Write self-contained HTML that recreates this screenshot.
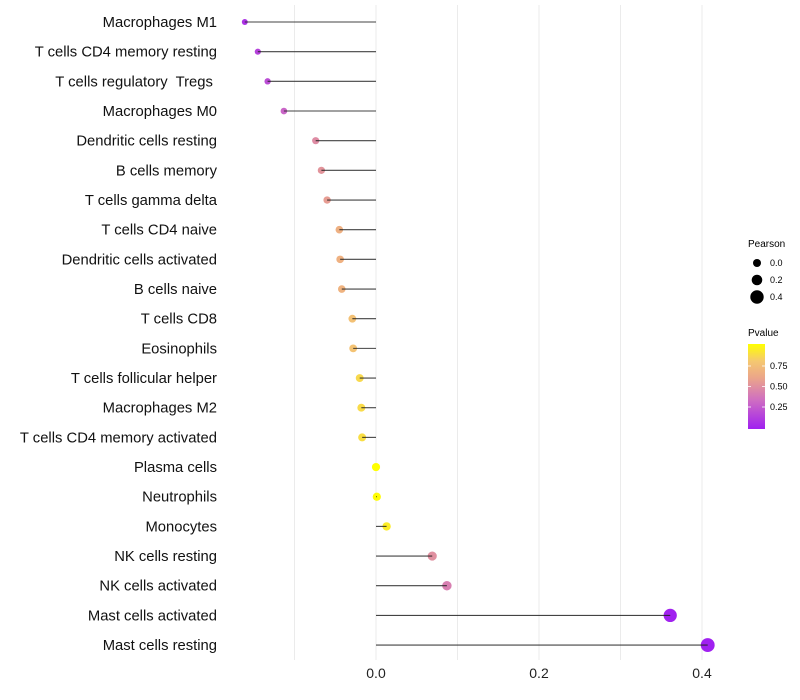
<!DOCTYPE html>
<html><head><meta charset="utf-8"><style>
body{margin:0;background:#fff;font-family:"Liberation Sans",sans-serif}
svg{display:block}
</style></head><body>
<svg id="chart" width="800" height="700">
<defs><linearGradient id="pg" x1="0" y1="1" x2="0" y2="0">
<stop offset="0" stop-color="#a020f0"/><stop offset="0.35" stop-color="#d070c0"/><stop offset="0.6" stop-color="#eba58a"/><stop offset="0.8" stop-color="#f5c870"/><stop offset="1" stop-color="#ffff00"/></linearGradient></defs>
<g id="grid"></g><g id="marks"></g><g id="ylabels"></g><g id="xlabels"></g>
<g font-size="9">
<text x="748" y="247" font-size="10">Pearson</text>
<circle cx="757" cy="263" r="4" fill="#000"/><text x="770" y="266">0.0</text>
<circle cx="757" cy="280" r="5.3" fill="#000"/><text x="770" y="283">0.2</text>
<circle cx="757" cy="297" r="6.7" fill="#000"/><text x="770" y="300">0.4</text>
</g>
<g font-size="9">
<text x="748" y="336" font-size="10">Pvalue</text>
<rect x="748" y="344" width="17" height="85" fill="url(#pg)"/>
<g stroke="#fff" stroke-width="0.8"><line x1="748" x2="751" y1="366" y2="366"/><line x1="762" x2="765" y1="366" y2="366"/><line x1="748" x2="751" y1="386.5" y2="386.5"/><line x1="762" x2="765" y1="386.5" y2="386.5"/><line x1="748" x2="751" y1="407" y2="407"/><line x1="762" x2="765" y1="407" y2="407"/></g>
<text x="770" y="369">0.75</text>
<text x="770" y="389.5">0.50</text>
<text x="770" y="410">0.25</text>
</g>
</svg>
<script>
const cells=["Macrophages M1","T cells CD4 memory resting","T cells regulatory  Tregs ","Macrophages M0","Dendritic cells resting","B cells memory","T cells gamma delta","T cells CD4 naive","Dendritic cells activated","B cells naive","T cells CD8","Eosinophils","T cells follicular helper","Macrophages M2","T cells CD4 memory activated","Plasma cells","Neutrophils","Monocytes","NK cells resting","NK cells activated","Mast cells activated","Mast cells resting"];
const pearson=[-0.161,-0.145,-0.133,-0.113,-0.074,-0.067,-0.060,-0.045,-0.044,-0.042,-0.029,-0.028,-0.020,-0.018,-0.017,0.000,0.001,0.013,0.069,0.087,0.361,0.407];
const pvalue=[0.08,0.15,0.2,0.3,0.48,0.52,0.56,0.66,0.67,0.68,0.76,0.77,0.86,0.87,0.88,1.0,0.99,0.93,0.5,0.42,0.01,0.003];
const xTicks=[0,0.2,0.4];
const ns="http://www.w3.org/2000/svg";
const X=v=>376+v*815;
const Y=i=>22+i*29.67;
const R=v=>Math.max(1.5,4.1+7*v);
const stops=[[0,[160,32,240]],[0.35,[208,112,192]],[0.6,[235,165,138]],[0.8,[245,200,112]],[1,[255,255,0]]];
function col(p){for(let k=1;k<stops.length;k++){if(p<=stops[k][0]){const a=stops[k-1],b=stops[k],t=(p-a[0])/(b[0]-a[0]);return "rgb("+a[1].map((c,j)=>Math.round(c+(b[1][j]-c)*t)).join(",")+")";}}return "rgb(255,255,0)";}
function mk(t,a,p){const e=document.createElementNS(ns,t);for(const k in a)e.setAttribute(k,a[k]);p.appendChild(e);return e;}
const grid=document.getElementById('grid'),marks=document.getElementById('marks'),yl=document.getElementById('ylabels'),xl=document.getElementById('xlabels');
[-0.1,0,0.1,0.2,0.3,0.4].forEach(v=>{const l=mk('line',{x1:X(v),x2:X(v),y1:5,y2:660,stroke:'#ebebeb','stroke-width':1},grid);

});
xTicks.forEach(v=>{const t=mk('text',{x:X(v),y:678,'text-anchor':'middle','font-size':14,fill:'#222'},xl);t.textContent=v.toFixed(1);

});
cells.forEach((c,i)=>{
const t=mk('text',{x:217,y:Y(i)+5,'text-anchor':'end','font-size':14.8,fill:'#111','xml:space':'preserve'},yl);t.textContent=c;
t.setAttribute('style','white-space:pre');


const d=mk('circle',{cx:X(pearson[i]),cy:Y(i),r:R(pearson[i]),fill:col(pvalue[i])},marks);


const l=mk('line',{x1:X(0),x2:X(pearson[i]),y1:Y(i),y2:Y(i),stroke:'#222','stroke-width':1.1,'stroke-opacity':0.85},marks);


});
</script>
</body></html>
